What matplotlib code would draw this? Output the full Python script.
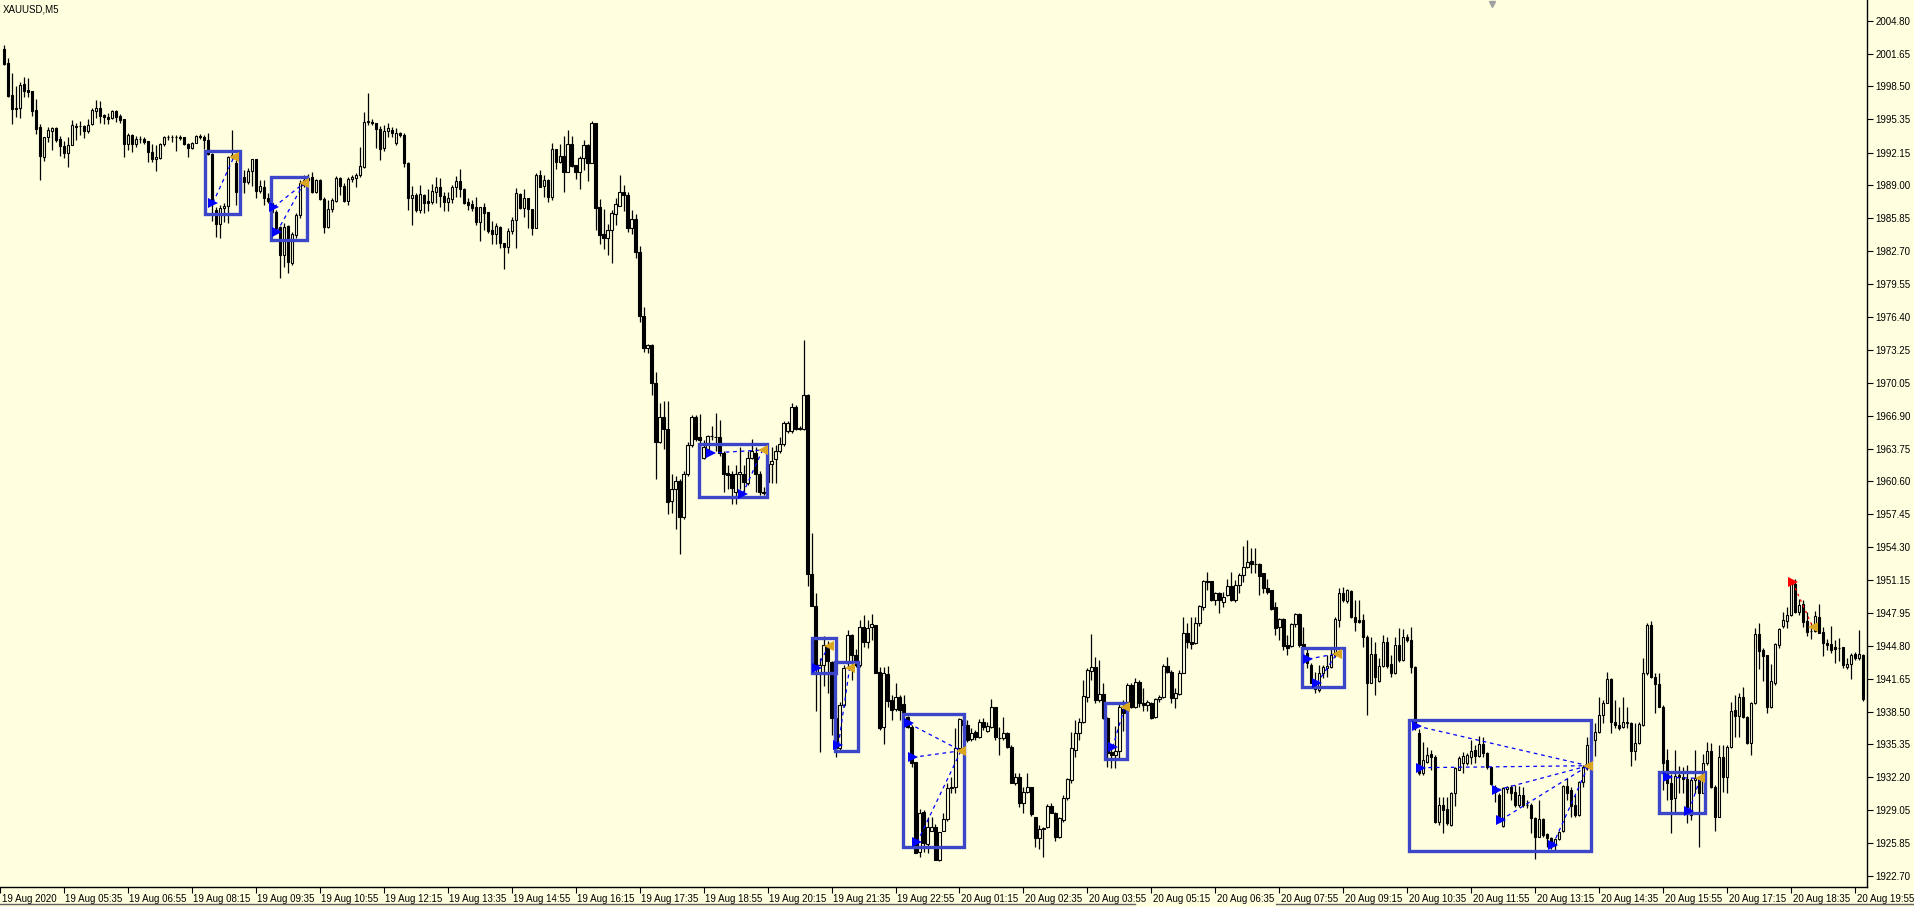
import numpy as np
import matplotlib
matplotlib.use("Agg")
import matplotlib.pyplot as plt
from matplotlib.patches import Rectangle
from matplotlib.lines import Line2D
from matplotlib.transforms import ScaledTranslation

symbol = "XAUUSD,M5"

# 5-minute bars, one entry per bar (bar 0 = 19 Aug 04:20)
opens = [
    2002.09, 2000.78, 1997.67, 1996.46, 1996.46, 1998.73, 1998.15, 1998.06, 1996.23, 1994.60,
    1991.75, 1993.67, 1994.19, 1994.51, 1993.48, 1992.78, 1992.07, 1992.87, 1994.73, 1994.70,
    1994.70, 1994.25, 1994.86, 1996.17, 1996.39, 1995.75, 1995.53, 1995.43, 1996.14, 1995.66,
    1995.37, 1993.00, 1993.83, 1992.94, 1993.45, 1993.48, 1993.26, 1992.20, 1991.50, 1991.59,
    1992.97, 1993.61, 1993.67, 1993.64, 1993.67, 1993.61, 1992.97, 1992.55, 1993.10, 1993.74,
    1993.67, 1993.35, 1992.01, 1986.63, 1985.26, 1986.79, 1987.02, 1991.69, 1991.18, 1988.39,
    1989.77, 1989.35, 1990.41, 1991.50, 1988.49, 1988.88, 1987.75, 1987.27, 1986.47, 1985.03,
    1982.32, 1985.10, 1981.58, 1984.23, 1986.15, 1989.03, 1989.51, 1989.83, 1988.39, 1989.51,
    1987.66, 1984.97, 1986.70, 1987.53, 1989.67, 1988.94, 1987.53, 1989.58, 1989.74, 1989.99,
    1990.79, 1995.11, 1995.11, 1994.95, 1994.37, 1992.55, 1994.25, 1994.31, 1993.09, 1993.99,
    1993.83, 1991.11, 1987.75, 1988.07, 1986.63, 1988.07, 1987.50, 1987.43, 1988.39, 1988.81,
    1988.01, 1987.37, 1987.69, 1988.87, 1989.42, 1988.62, 1987.37, 1987.18, 1986.89, 1985.51,
    1986.89, 1986.44, 1984.68, 1984.36, 1985.00, 1983.43, 1983.11, 1984.59, 1985.64, 1988.17,
    1986.86, 1987.75, 1986.73, 1984.94, 1989.96, 1988.97, 1989.48, 1987.91, 1992.46, 1991.27,
    1991.82, 1990.31, 1992.94, 1990.92, 1990.31, 1991.59, 1992.84, 1991.18, 1994.95, 1986.89,
    1984.30, 1983.98, 1984.75, 1986.28, 1987.05, 1988.33, 1988.10, 1984.90, 1985.80, 1982.60,
    1976.50, 1973.41, 1973.69, 1970.00, 1964.36, 1966.82, 1965.63, 1958.73, 1959.85, 1960.61,
    1957.19, 1961.29, 1964.12, 1966.75, 1964.87, 1962.83, 1963.68, 1964.95, 1964.87, 1964.87,
    1963.34, 1961.36, 1961.29, 1959.58, 1961.29, 1961.29, 1960.43, 1962.83, 1963.34, 1961.29,
    1959.58, 1960.51, 1962.31, 1962.76, 1963.51, 1964.19, 1965.42, 1965.39, 1967.78, 1965.73,
    1965.63, 1968.87, 1951.73, 1948.65, 1942.20, 1943.00, 1944.90, 1943.29, 1937.86, 1935.00,
    1939.10, 1943.13, 1945.85, 1943.93, 1942.97, 1946.59, 1945.21, 1946.59, 1946.81, 1942.33,
    1936.99, 1942.08, 1939.61, 1938.72, 1939.87, 1939.23, 1938.02, 1937.06, 1933.70, 1925.06,
    1928.90, 1925.80, 1927.07, 1927.39, 1924.26, 1927.07, 1928.16, 1931.14, 1931.24, 1934.98,
    1937.70, 1937.22, 1935.84, 1936.58, 1936.03, 1937.54, 1936.67, 1937.00, 1938.91, 1936.00,
    1935.94, 1936.48, 1935.14, 1931.68, 1932.19, 1929.70, 1930.82, 1931.30, 1928.35, 1926.34,
    1927.27, 1927.46, 1929.44, 1928.80, 1926.50, 1928.10, 1930.18, 1931.94, 1934.82, 1936.48,
    1937.54, 1939.94, 1942.43, 1942.81, 1939.62, 1940.19, 1937.86, 1934.60, 1934.34, 1934.76,
    1938.72, 1938.82, 1941.06, 1938.91, 1941.37, 1939.36, 1939.10, 1939.30, 1937.95, 1939.68,
    1939.94, 1942.88, 1942.33, 1939.78, 1940.19, 1942.24, 1946.08, 1945.21, 1945.05, 1946.97,
    1948.57, 1951.07, 1951.00, 1949.21, 1949.85, 1949.05, 1949.69, 1950.56, 1949.21, 1950.65,
    1951.58, 1952.41, 1952.99, 1952.67, 1952.67, 1951.77, 1950.33, 1950.17, 1948.57, 1946.59,
    1947.36, 1944.89, 1944.80, 1946.91, 1947.87, 1944.99, 1944.09, 1942.97, 1941.37, 1940.57,
    1942.24, 1942.72, 1942.81, 1943.93, 1947.29, 1949.92, 1949.15, 1950.11, 1947.61, 1947.29,
    1947.29, 1945.63, 1941.28, 1944.03, 1941.47, 1942.88, 1945.21, 1943.07, 1942.17, 1944.89,
    1943.45, 1945.69, 1945.37, 1942.81, 1936.42, 1932.58, 1933.70, 1934.43, 1934.18, 1927.94,
    1929.54, 1929.12, 1927.62, 1930.66, 1932.90, 1933.54, 1933.54, 1934.18, 1934.82, 1934.24,
    1935.39, 1934.50, 1933.15, 1931.30, 1930.50, 1927.52, 1931.04, 1931.23, 1930.82, 1929.54,
    1930.50, 1929.54, 1929.54, 1928.26, 1926.50, 1928.16, 1926.76, 1926.34, 1925.70, 1926.24,
    1927.08, 1931.36, 1930.98, 1929.54, 1928.58, 1931.78, 1933.06, 1935.30, 1935.78, 1936.58,
    1938.18, 1939.36, 1941.60, 1937.54, 1937.22, 1937.00, 1937.54, 1937.38, 1934.75, 1935.46,
    1937.22, 1942.17, 1946.81, 1941.79, 1941.15, 1938.98, 1933.85, 1931.68, 1930.18, 1932.42,
    1932.26, 1932.00, 1928.58, 1931.94, 1932.10, 1930.72, 1933.54, 1934.75, 1931.30, 1928.42,
    1934.18, 1932.19, 1935.07, 1938.66, 1938.08, 1939.94, 1937.95, 1935.52, 1939.30, 1945.95,
    1944.41, 1943.93, 1938.98, 1941.28, 1944.89, 1946.72, 1947.23, 1947.77, 1950.75, 1948.09,
    1948.83, 1947.20, 1946.27, 1946.27, 1947.55, 1946.17, 1945.05, 1944.99, 1944.67, 1944.57,
    1944.67, 1942.75, 1943.07, 1943.99, 1943.61, 1943.93,
]
highs = [
    2002.47, 2001.19, 1999.75, 1998.54, 1998.95, 1999.43, 1999.27, 1998.06, 1997.26, 1994.89,
    1993.67, 1994.57, 1994.63, 1994.60, 1993.74, 1993.29, 1993.67, 1995.27, 1994.95, 1995.21,
    1994.79, 1995.37, 1996.39, 1997.19, 1997.10, 1995.85, 1995.98, 1996.23, 1996.20, 1995.85,
    1995.40, 1993.99, 1993.93, 1993.74, 1993.74, 1993.67, 1993.26, 1992.97, 1992.87, 1993.03,
    1993.74, 1993.80, 1993.83, 1993.83, 1993.80, 1993.67, 1993.10, 1993.19, 1993.83, 1993.93,
    1993.83, 1993.99, 1992.07, 1986.95, 1987.11, 1987.27, 1991.82, 1994.31, 1991.43, 1989.80,
    1990.47, 1990.63, 1991.56, 1991.56, 1989.51, 1989.51, 1988.23, 1987.43, 1986.63, 1985.10,
    1985.35, 1985.19, 1984.55, 1986.31, 1989.51, 1989.99, 1990.10, 1990.31, 1989.58, 1989.58,
    1987.91, 1987.59, 1987.75, 1989.90, 1989.83, 1989.19, 1989.77, 1990.00, 1990.15, 1992.71,
    1996.07, 1997.90, 1995.40, 1995.02, 1994.69, 1994.79, 1994.95, 1994.63, 1994.47, 1994.15,
    1993.99, 1991.27, 1988.94, 1988.23, 1989.03, 1988.17, 1988.62, 1989.10, 1989.77, 1989.67,
    1988.39, 1988.39, 1989.03, 1989.90, 1990.54, 1988.71, 1987.82, 1987.59, 1987.91, 1986.95,
    1987.27, 1986.44, 1985.58, 1985.35, 1985.10, 1983.43, 1984.87, 1985.99, 1988.71, 1988.23,
    1988.62, 1987.75, 1986.73, 1990.15, 1990.47, 1990.00, 1989.64, 1993.03, 1992.46, 1992.97,
    1993.73, 1994.31, 1993.73, 1990.92, 1991.82, 1993.35, 1992.94, 1995.21, 1995.02, 1987.69,
    1986.70, 1985.26, 1986.63, 1987.75, 1990.00, 1989.03, 1988.40, 1986.60, 1986.30, 1983.20,
    1977.30, 1973.75, 1973.75, 1971.10, 1968.12, 1968.29, 1968.29, 1961.29, 1961.12, 1960.78,
    1961.63, 1964.33, 1966.92, 1966.92, 1967.09, 1964.53, 1965.05, 1965.90, 1967.16, 1966.48,
    1963.51, 1962.14, 1961.63, 1962.14, 1963.92, 1962.14, 1963.51, 1964.70, 1963.92, 1961.63,
    1960.10, 1963.34, 1963.85, 1964.12, 1964.87, 1966.41, 1966.41, 1968.12, 1967.88, 1965.90,
    1974.16, 1968.97, 1955.65, 1949.85, 1943.60, 1945.80, 1945.30, 1943.39, 1939.10, 1939.40,
    1943.00, 1946.33, 1945.95, 1944.50, 1947.29, 1947.77, 1947.29, 1947.87, 1946.81, 1942.81,
    1942.81, 1942.88, 1940.09, 1941.21, 1940.09, 1940.09, 1938.08, 1937.22, 1933.70, 1929.12,
    1929.06, 1928.35, 1928.42, 1927.71, 1926.98, 1928.80, 1931.62, 1932.26, 1936.90, 1937.86,
    1938.30, 1937.70, 1936.90, 1936.74, 1937.76, 1937.86, 1937.54, 1939.68, 1938.98, 1937.06,
    1937.95, 1936.58, 1935.30, 1932.58, 1932.58, 1931.30, 1932.58, 1931.30, 1928.42, 1927.60,
    1927.46, 1929.60, 1929.70, 1928.90, 1928.42, 1930.50, 1932.16, 1936.58, 1937.70, 1937.86,
    1941.53, 1942.65, 1945.95, 1943.71, 1943.45, 1941.28, 1938.02, 1935.14, 1937.12, 1939.46,
    1939.62, 1941.28, 1941.21, 1941.69, 1941.53, 1940.73, 1939.62, 1939.46, 1939.78, 1940.09,
    1943.04, 1943.77, 1942.49, 1940.73, 1942.49, 1947.61, 1947.04, 1947.61, 1947.61, 1948.73,
    1951.13, 1951.93, 1951.07, 1950.01, 1950.01, 1950.01, 1951.20, 1951.87, 1951.13, 1951.84,
    1954.39, 1954.97, 1954.17, 1954.17, 1952.73, 1951.84, 1951.20, 1950.17, 1949.05, 1947.45,
    1947.45, 1945.85, 1946.97, 1947.99, 1947.99, 1946.59, 1944.73, 1943.13, 1942.33, 1942.97,
    1942.97, 1943.93, 1944.57, 1947.61, 1950.33, 1950.43, 1950.23, 1950.17, 1949.21, 1949.21,
    1947.87, 1945.85, 1945.69, 1945.21, 1943.61, 1945.85, 1945.69, 1943.93, 1945.69, 1946.49,
    1946.40, 1945.95, 1946.65, 1942.88, 1936.80, 1935.62, 1935.14, 1934.82, 1934.34, 1930.34,
    1930.34, 1930.34, 1930.82, 1933.22, 1934.24, 1934.66, 1934.50, 1935.78, 1935.30, 1936.16,
    1936.10, 1934.66, 1933.22, 1931.46, 1930.66, 1931.23, 1931.36, 1931.46, 1931.46, 1931.36,
    1931.30, 1930.02, 1929.76, 1928.42, 1930.02, 1928.26, 1926.82, 1926.50, 1926.34, 1927.08,
    1931.46, 1932.10, 1931.30, 1930.50, 1931.87, 1933.38, 1936.10, 1936.50, 1937.38, 1939.94,
    1939.62, 1942.33, 1941.69, 1939.62, 1938.98, 1939.87, 1938.98, 1937.54, 1937.38, 1937.54,
    1943.61, 1946.97, 1947.20, 1942.17, 1942.24, 1939.14, 1934.88, 1932.51, 1934.82, 1933.28,
    1933.22, 1933.38, 1932.10, 1934.82, 1932.10, 1934.43, 1935.62, 1935.52, 1931.46, 1935.30,
    1935.30, 1935.30, 1939.46, 1940.09, 1940.25, 1940.89, 1938.08, 1939.46, 1946.49, 1947.04,
    1944.57, 1943.93, 1943.07, 1945.12, 1946.49, 1948.09, 1948.57, 1951.07, 1951.20, 1949.28,
    1949.21, 1948.09, 1946.97, 1948.19, 1948.83, 1946.65, 1945.44, 1946.72, 1945.37, 1945.53,
    1944.73, 1943.61, 1944.09, 1944.25, 1946.33, 1944.00,
]
lows = [
    2000.55, 1997.51, 1994.89, 1995.53, 1995.50, 1997.51, 1997.51, 1995.66, 1993.93, 1989.51,
    1991.34, 1993.19, 1992.39, 1993.19, 1991.82, 1991.66, 1990.79, 1992.84, 1993.35, 1993.83,
    1993.51, 1994.06, 1994.79, 1995.43, 1995.02, 1994.89, 1994.86, 1995.34, 1995.08, 1995.02,
    1991.75, 1992.39, 1992.23, 1992.71, 1993.03, 1992.97, 1991.27, 1991.27, 1990.41, 1991.53,
    1992.78, 1993.35, 1993.19, 1992.33, 1993.35, 1992.87, 1991.75, 1992.46, 1993.03, 1993.42,
    1992.49, 1991.91, 1985.61, 1984.07, 1983.91, 1985.51, 1985.35, 1991.50, 1987.11, 1987.90,
    1988.23, 1989.13, 1988.94, 1987.75, 1988.23, 1987.11, 1987.34, 1986.31, 1984.72, 1980.07,
    1981.20, 1980.56, 1981.36, 1983.91, 1985.83, 1988.87, 1989.20, 1988.23, 1988.23, 1987.59,
    1984.39, 1984.87, 1986.47, 1987.43, 1988.07, 1987.43, 1987.11, 1989.35, 1988.87, 1989.83,
    1990.63, 1994.80, 1994.80, 1992.55, 1991.43, 1992.33, 1993.67, 1993.67, 1992.87, 1993.67,
    1990.79, 1986.63, 1985.19, 1986.47, 1986.31, 1986.38, 1986.54, 1987.21, 1987.34, 1986.95,
    1986.57, 1986.57, 1987.34, 1987.91, 1987.85, 1987.21, 1986.63, 1986.57, 1985.19, 1983.69,
    1984.71, 1984.46, 1983.37, 1983.37, 1983.02, 1981.00, 1982.54, 1984.30, 1983.02, 1986.76,
    1985.99, 1984.94, 1984.23, 1984.87, 1988.81, 1987.91, 1987.43, 1987.59, 1990.57, 1991.11,
    1988.39, 1990.25, 1990.73, 1989.61, 1988.68, 1990.47, 1989.45, 1991.11, 1984.71, 1983.37,
    1982.92, 1982.32, 1981.52, 1985.19, 1987.02, 1986.54, 1984.50, 1984.30, 1982.00, 1975.90,
    1973.00, 1972.90, 1968.90, 1960.80, 1964.26, 1963.68, 1957.46, 1957.53, 1955.99, 1953.60,
    1957.02, 1961.12, 1963.85, 1964.46, 1963.68, 1962.76, 1963.51, 1964.53, 1963.51, 1963.00,
    1959.58, 1959.85, 1958.38, 1958.38, 1959.82, 1959.58, 1960.26, 1962.70, 1959.58, 1959.24,
    1959.31, 1960.43, 1960.43, 1960.43, 1963.34, 1964.02, 1965.28, 1965.22, 1965.56, 1965.49,
    1965.49, 1950.53, 1948.60, 1938.58, 1934.60, 1941.00, 1940.30, 1936.26, 1934.18, 1934.80,
    1938.90, 1942.81, 1941.53, 1942.80, 1942.81, 1944.73, 1944.57, 1945.37, 1942.17, 1936.74,
    1935.39, 1938.98, 1937.70, 1938.59, 1937.70, 1937.44, 1936.90, 1933.22, 1924.90, 1924.52,
    1925.06, 1924.90, 1927.07, 1924.26, 1924.20, 1927.00, 1928.03, 1930.66, 1930.66, 1934.75,
    1936.60, 1935.62, 1935.71, 1935.78, 1935.94, 1936.74, 1936.58, 1936.90, 1935.78, 1934.34,
    1935.78, 1934.98, 1931.62, 1931.46, 1929.31, 1928.74, 1930.72, 1928.48, 1925.54, 1925.30,
    1924.52, 1927.30, 1928.74, 1926.12, 1926.34, 1927.94, 1930.02, 1931.62, 1934.18, 1935.78,
    1937.44, 1939.46, 1941.53, 1939.30, 1939.46, 1937.76, 1933.22, 1933.06, 1933.06, 1934.02,
    1936.67, 1938.66, 1938.82, 1938.82, 1938.98, 1938.59, 1938.59, 1937.76, 1937.86, 1939.46,
    1939.78, 1942.17, 1939.30, 1938.82, 1940.09, 1942.17, 1944.57, 1944.48, 1944.99, 1946.72,
    1948.25, 1950.17, 1949.15, 1948.73, 1947.93, 1948.51, 1949.60, 1949.12, 1949.05, 1949.92,
    1950.97, 1952.25, 1951.77, 1951.77, 1949.69, 1949.85, 1949.79, 1948.25, 1945.85, 1945.37,
    1944.41, 1943.93, 1944.67, 1946.59, 1944.73, 1943.84, 1942.65, 1941.21, 1940.25, 1940.41,
    1941.69, 1941.85, 1942.65, 1943.77, 1946.65, 1949.05, 1948.96, 1947.45, 1946.27, 1946.97,
    1944.73, 1938.17, 1941.21, 1940.09, 1941.37, 1942.75, 1942.65, 1941.79, 1942.11, 1943.29,
    1943.39, 1945.21, 1942.17, 1936.74, 1932.42, 1932.42, 1933.60, 1932.90, 1927.78, 1927.62,
    1926.82, 1927.62, 1927.52, 1929.44, 1932.90, 1932.58, 1933.38, 1933.47, 1933.54, 1934.18,
    1934.18, 1932.96, 1931.46, 1929.86, 1927.90, 1927.46, 1930.66, 1930.02, 1929.38, 1929.38,
    1929.38, 1929.22, 1926.82, 1924.33, 1926.44, 1926.50, 1925.54, 1925.28, 1925.22, 1926.18,
    1926.98, 1930.02, 1928.42, 1928.42, 1928.48, 1931.30, 1932.90, 1935.00, 1934.24, 1936.42,
    1937.38, 1939.30, 1936.48, 1936.90, 1936.74, 1936.90, 1936.90, 1933.28, 1933.86, 1935.39,
    1937.12, 1942.01, 1941.69, 1938.34, 1938.91, 1931.00, 1930.02, 1926.88, 1928.90, 1930.66,
    1930.66, 1927.78, 1928.10, 1930.66, 1925.54, 1930.66, 1933.38, 1931.14, 1927.07, 1928.35,
    1930.82, 1930.72, 1934.98, 1936.10, 1936.10, 1937.86, 1935.39, 1934.34, 1939.23, 1942.56,
    1941.47, 1938.34, 1938.82, 1941.05, 1944.57, 1946.49, 1946.49, 1947.68, 1947.93, 1947.77,
    1946.65, 1945.76, 1945.44, 1946.17, 1946.01, 1943.84, 1944.41, 1944.16, 1943.13, 1943.39,
    1942.65, 1942.56, 1941.60, 1943.45, 1943.45, 1939.55,
]
closes = [
    2000.62, 1997.58, 1996.33, 1996.30, 1998.63, 1998.09, 1997.99, 1996.17, 1994.41, 1991.85,
    1993.61, 1994.31, 1994.51, 1993.35, 1992.81, 1992.07, 1992.84, 1994.76, 1994.57, 1994.68,
    1994.22, 1994.79, 1996.23, 1996.39, 1995.69, 1995.53, 1995.40, 1996.14, 1995.59, 1995.27,
    1993.00, 1993.83, 1992.94, 1993.45, 1993.48, 1993.19, 1992.23, 1991.50, 1991.72, 1992.97,
    1993.61, 1993.67, 1993.64, 1993.67, 1993.51, 1992.94, 1992.55, 1993.10, 1993.74, 1993.67,
    1993.35, 1992.01, 1987.60, 1985.26, 1986.79, 1987.02, 1991.69, 1991.91, 1988.39, 1989.50,
    1989.35, 1990.41, 1991.50, 1988.49, 1988.94, 1987.75, 1987.53, 1986.47, 1984.87, 1982.32,
    1985.03, 1981.68, 1984.33, 1986.15, 1989.19, 1989.51, 1989.70, 1988.39, 1989.51, 1987.66,
    1984.97, 1986.70, 1987.59, 1989.67, 1988.94, 1987.53, 1989.58, 1989.77, 1989.99, 1990.86,
    1995.11, 1995.20, 1994.95, 1994.37, 1992.46, 1994.25, 1994.47, 1993.99, 1994.05, 1993.83,
    1991.11, 1987.75, 1988.07, 1986.63, 1988.14, 1987.34, 1987.34, 1988.46, 1988.81, 1988.01,
    1987.37, 1987.75, 1988.81, 1989.38, 1988.62, 1987.34, 1987.11, 1986.86, 1985.51, 1986.89,
    1986.38, 1984.62, 1984.36, 1985.10, 1983.43, 1983.11, 1984.62, 1985.67, 1988.23, 1986.86,
    1987.75, 1986.76, 1984.94, 1989.96, 1988.87, 1989.48, 1987.91, 1992.46, 1991.27, 1991.82,
    1990.31, 1992.94, 1990.86, 1990.31, 1991.59, 1992.87, 1991.18, 1994.95, 1986.79, 1984.23,
    1983.98, 1984.68, 1986.31, 1987.18, 1988.33, 1988.10, 1984.90, 1985.80, 1982.60, 1976.50,
    1973.41, 1973.69, 1970.00, 1964.36, 1966.82, 1965.63, 1958.62, 1959.85, 1960.61, 1957.19,
    1961.29, 1964.12, 1966.75, 1964.70, 1964.53, 1963.85, 1964.98, 1964.95, 1964.90, 1963.34,
    1961.29, 1961.19, 1959.92, 1961.29, 1961.46, 1960.51, 1962.83, 1963.51, 1961.29, 1959.58,
    1959.50, 1962.31, 1962.55, 1963.51, 1964.19, 1966.17, 1966.24, 1967.78, 1965.66, 1965.63,
    1968.87, 1951.73, 1948.65, 1942.85, 1943.00, 1944.90, 1943.40, 1937.86, 1935.00, 1939.10,
    1942.65, 1945.85, 1943.93, 1943.00, 1946.59, 1945.21, 1946.49, 1946.91, 1942.24, 1936.90,
    1942.17, 1939.55, 1938.66, 1939.87, 1938.66, 1938.27, 1937.06, 1933.54, 1924.96, 1928.80,
    1925.86, 1927.46, 1927.39, 1924.26, 1926.98, 1928.16, 1931.14, 1931.24, 1934.98, 1937.76,
    1937.20, 1935.78, 1936.48, 1936.10, 1937.54, 1937.06, 1937.12, 1938.98, 1936.03, 1935.94,
    1936.48, 1935.14, 1931.68, 1932.19, 1929.76, 1930.82, 1931.30, 1928.67, 1926.34, 1927.20,
    1927.30, 1929.44, 1928.80, 1926.50, 1928.26, 1930.18, 1932.00, 1934.98, 1936.42, 1937.54,
    1940.00, 1942.49, 1942.81, 1939.62, 1940.19, 1937.86, 1934.50, 1934.34, 1934.76, 1938.91,
    1938.40, 1941.06, 1938.91, 1941.37, 1939.30, 1939.10, 1939.39, 1937.86, 1939.68, 1939.94,
    1942.88, 1942.33, 1939.78, 1940.32, 1942.24, 1946.08, 1945.21, 1944.99, 1946.97, 1948.64,
    1951.04, 1950.97, 1949.21, 1949.92, 1949.21, 1949.53, 1950.56, 1949.21, 1950.65, 1951.61,
    1952.35, 1952.83, 1952.67, 1952.70, 1951.52, 1950.33, 1950.01, 1948.32, 1946.49, 1947.39,
    1944.80, 1944.57, 1946.91, 1947.87, 1944.89, 1944.73, 1943.20, 1941.28, 1940.64, 1942.24,
    1942.81, 1942.88, 1943.93, 1947.36, 1949.92, 1949.21, 1950.17, 1947.55, 1947.13, 1947.13,
    1945.63, 1941.28, 1944.03, 1941.79, 1942.88, 1945.21, 1942.88, 1942.17, 1944.89, 1943.45,
    1945.69, 1945.37, 1942.75, 1937.06, 1932.58, 1933.86, 1934.34, 1934.18, 1927.94, 1929.54,
    1929.06, 1927.78, 1930.72, 1933.06, 1934.02, 1934.24, 1934.34, 1934.75, 1934.24, 1935.39,
    1934.50, 1933.15, 1931.55, 1930.82, 1928.42, 1931.14, 1931.23, 1930.72, 1929.54, 1930.50,
    1929.54, 1929.58, 1928.26, 1926.50, 1928.16, 1926.66, 1926.34, 1926.02, 1926.24, 1926.98,
    1931.36, 1930.72, 1929.47, 1928.58, 1931.78, 1933.22, 1935.30, 1936.20, 1936.58, 1938.18,
    1939.36, 1941.60, 1937.54, 1937.22, 1936.90, 1937.54, 1937.44, 1934.75, 1935.46, 1937.31,
    1942.17, 1946.81, 1941.79, 1941.15, 1938.91, 1933.60, 1931.68, 1930.08, 1932.32, 1932.26,
    1932.00, 1929.38, 1931.94, 1932.10, 1930.72, 1933.54, 1934.75, 1931.30, 1928.42, 1934.18,
    1932.19, 1935.07, 1938.59, 1938.08, 1939.94, 1937.95, 1935.52, 1939.30, 1945.95, 1944.35,
    1943.84, 1938.98, 1941.47, 1944.99, 1946.40, 1947.29, 1947.77, 1950.75, 1948.09, 1948.73,
    1947.13, 1946.17, 1946.20, 1947.68, 1946.08, 1945.05, 1944.89, 1944.41, 1944.54, 1944.60,
    1942.97, 1943.07, 1943.93, 1943.61, 1943.99, 1939.68,
]

time_labels = [
    "19 Aug 2020", "19 Aug 05:35", "19 Aug 06:55", "19 Aug 08:15", "19 Aug 09:35",
    "19 Aug 10:55", "19 Aug 12:15", "19 Aug 13:35", "19 Aug 14:55", "19 Aug 16:15",
    "19 Aug 17:35", "19 Aug 18:55", "19 Aug 20:15", "19 Aug 21:35", "19 Aug 22:55",
    "20 Aug 01:15", "20 Aug 02:35", "20 Aug 03:55", "20 Aug 05:15", "20 Aug 06:35",
    "20 Aug 07:55", "20 Aug 09:15", "20 Aug 10:35", "20 Aug 11:55", "20 Aug 13:15",
    "20 Aug 14:35", "20 Aug 15:55", "20 Aug 17:15", "20 Aug 18:35", "20 Aug 19:55",
]
price_ticks = [
    2004.80, 2001.65, 1998.50, 1995.35, 1992.15, 1989.00, 1985.85, 1982.70, 1979.55,
    1976.40, 1973.25, 1970.05, 1966.90, 1963.75, 1960.60, 1957.45, 1954.30, 1951.15,
    1947.95, 1944.80, 1941.65, 1938.50, 1935.35, 1932.20, 1929.05, 1925.85, 1922.70,
]

# pattern boxes: (first bar, last bar, top price, bottom price)
boxes = [
    (50.25, 59.0, 1992.30, 1986.25), (66.75, 75.75, 1989.80, 1983.76),
    (173.75, 190.75, 1964.18, 1959.09), (202.0, 208.0, 1945.56, 1942.20),
    (207.75, 213.5, 1943.26, 1934.72), (224.75, 240.25, 1938.27, 1925.50),
    (275.5, 281.0, 1939.32, 1933.95), (324.75, 335.25, 1944.60, 1940.86),
    (351.5, 397.0, 1937.69, 1925.12), (414.0, 425.5, 1932.70, 1928.77),
]
# pattern legs: start points (bar, price) joined to one end point
leg_starts = [
    [(52.25, 1987.31)],
    [(67.5, 1986.92), (68.25, 1984.53)],
    [(176.75, 1963.32), (184.75, 1959.38)],
    [(203.3, 1942.68)],
    [(208.7, 1935.29)],
    [(226.3, 1937.37), (227.3, 1934.11), (228.4, 1925.95)],
    [(277.3, 1935.07)],
    [(326.3, 1943.55), (328.4, 1941.21)],
    [(353.4, 1937.12), (354.4, 1933.12), (373.4, 1930.97), (374.4, 1928.10), (387.4, 1925.70)],
    [(416.3, 1932.19), (421.5, 1928.99)],
]
leg_ends = [
    (57.5, 1991.72), (75.0, 1989.20), (189.75, 1963.60), (206.3, 1944.79), (211.5, 1942.65),
    (239.4, 1934.75), (280.3, 1938.91), (333.4, 1944.06), (396.3, 1933.31), (424.3, 1932.09),
]
red_start = (447.4, 1950.90)
red_end = (452.4, 1946.65)

bg = "#FFFFE0"
box_color = "#3c46c8"
arrow_color = "#0000ff"
end_color = "#daa520"

plt.rcParams["font.family"] = ["Liberation Sans", "DejaVu Sans"]

W, H = 1914, 907
fig = plt.figure(figsize=(W / 100, H / 100), dpi=100)
fig.patch.set_facecolor(bg)
ax = fig.add_axes([0, 20 / H, 1867 / W, 887 / H])
ax.set_facecolor(bg)

o = np.array(opens)
h = np.array(highs)
l = np.array(lows)
c = np.array(closes)
x = np.arange(len(c))
up = c >= o

# candles
ax.vlines(x, l, h, color="black", lw=0.9, zorder=2)
ax.bar(x[up], (c - o)[up], bottom=o[up], width=0.6, color=bg,
       edgecolor="black", linewidth=0.8, zorder=3)
ax.bar(x[~up], (o - c)[~up], bottom=c[~up], width=0.6, color="black",
       edgecolor="black", linewidth=0.8, zorder=3)

# pattern drawings
for x0, x1, top, bot in boxes:
    ax.add_patch(Rectangle((x0, bot), x1 - x0, top - bot, fill=False,
                           edgecolor=box_color, lw=2.4, zorder=5))
for starts, end in zip(leg_starts, leg_ends):
    for sx, sy in starts:
        ax.plot([sx, end[0]], [sy, end[1]], color=arrow_color, lw=0.9,
                ls=(0, (3, 3)), zorder=6)
        ax.plot(sx, sy, marker=">", ms=7, color=arrow_color, mew=0, zorder=7)
    ax.plot(end[0], end[1], marker="<", ms=7, color=end_color, mew=0, zorder=7)
ax.plot([red_start[0], red_end[0]], [red_start[1], red_end[1]], color="red",
        lw=0.9, ls=(0, (2, 3)), zorder=6)
ax.plot(*red_start, marker=">", ms=7, color="red", mew=0, zorder=7)
ax.plot(*red_end, marker="<", ms=7, color=end_color, mew=0, zorder=7)

ax.set_xlim(-0.75, 466.0)
ax.set_ylim(1921.67, 2006.79)

for s in ["top", "left"]:
    ax.spines[s].set_visible(False)
for s in ["right", "bottom"]:
    ax.spines[s].set_color("black")
    ax.spines[s].set_linewidth(1.0)

ax.yaxis.tick_right()
ax.set_yticks(price_ticks, labels=[f"{v:.2f}" for v in price_ticks])
ax.tick_params(axis="y", length=4, width=0.8, pad=2, labelsize=7, colors="black")

tick_pos = [-1 + 16 * k for k in range(len(time_labels))]
ax.set_xticks(tick_pos, labels=time_labels)
ax.tick_params(axis="x", length=4, width=0.8, pad=1, labelsize=7, colors="black")
shift = ScaledTranslation(1.5 / 100, 0, fig.dpi_scale_trans)
for lbl in ax.get_xticklabels():
    lbl.set_horizontalalignment("left")
    lbl.set_transform(lbl.get_transform() + shift)
    lbl.set_clip_on(False)

fig.text(3 / W, 1 - 9 / H, symbol, fontsize=7, ha="left", va="center")

# chart-shift marker at the top and tab strip at the bottom
ax.plot(1492 / 1867, 1 - 4 / 887, marker="v", ms=5, color="#a0a0a0",
        transform=ax.transAxes, clip_on=False)
fig.add_artist(Line2D([0, 1135 / W], [3 / H, 3 / H], transform=fig.transFigure,
                      color="#606060", lw=1))
fig.add_artist(Line2D([1276 / W, 1], [3 / H, 3 / H], transform=fig.transFigure,
                      color="#606060", lw=1))

fig.savefig("out.png", dpi=100, facecolor=bg)
